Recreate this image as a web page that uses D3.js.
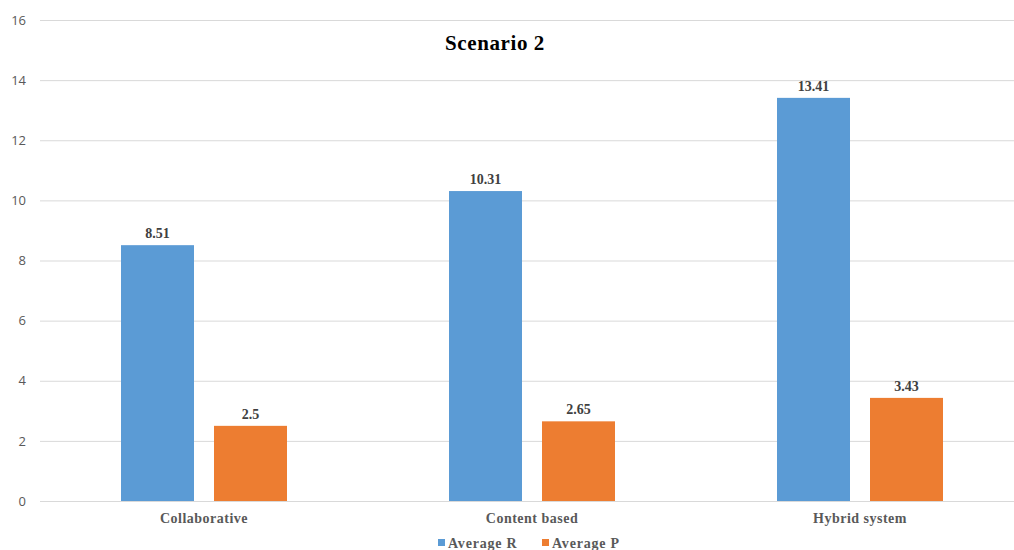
<!DOCTYPE html>
<html>
<head>
<meta charset="utf-8">
<script src="https://cdn.jsdelivr.net/npm/d3@7"></script>
<style>
  body { margin: 0; background: #fff; }
  svg { display: block; }
</style>
</head>
<body>
<div class="chart"></div>
<script>
// data
let categories = ["Collaborative", "Content based", "Hybrid system"];
let seriesNames = ["Average R", "Average P"];
let averageR = [8.51, 10.31, 13.41];
let averageP = [2.5, 2.65, 3.43];
let yTicks = [0, 2, 4, 6, 8, 10, 12, 14, 16];

let colors = ["#5B9BD5", "#ED7D31"];

let svgWidth = 1014;
let svgHeight = 550;

let svg = d3.select(".chart")
  .append("svg")
  .attr("width", svgWidth)
  .attr("height", svgHeight);

let rows = categories.map((c, i) => ({ cat: c, values: [averageR[i], averageP[i]] }));

// plot runs off the right edge in the original
let xScale = d3.scaleBand()
  .domain(categories)
  .range([40, 1024]);

let xInner = d3.scaleBand()
  .domain(seriesNames)
  .range([81, 328 - 81])
  .paddingInner(20 / 93);

let yScale = d3.scaleLinear()
  .domain([0, 16])
  .range([501, 20]);

// gridlines
svg.append("g")
  .selectAll("line")
  .data(yTicks)
  .enter()
  .append("line")
  .attr("x1", 40)
  .attr("x2", svgWidth)
  .attr("y1", d => yScale(d) + 0.5)
  .attr("y2", d => yScale(d) + 0.5)
  .attr("stroke", "#d9d9d9")
  .attr("stroke-width", 1);

// y tick labels
let leftAxis = d3.axisLeft(yScale).tickValues(yTicks).tickSize(0).tickPadding(0);
let yAxisG = svg.append("g")
  .attr("transform", "translate(26,0)")
  .call(leftAxis);
yAxisG.select(".domain").remove();
yAxisG.selectAll("text")
  .attr("font-family", "'Open Sans', sans-serif")
  .attr("font-size", "13px")
  .attr("fill", "#595959");

// category labels
svg.append("g")
  .selectAll("text")
  .data(categories)
  .enter()
  .append("text")
  .attr("x", d => xScale(d) + xScale.bandwidth() / 2)
  .attr("y", 523)
  .attr("text-anchor", "middle")
  .attr("font-family", "'Liberation Serif', 'Times New Roman', serif")
  .attr("font-weight", "bold")
  .attr("font-size", "14px")
  .attr("letter-spacing", "0.5px")
  .attr("fill", "#595959")
  .text(d => d);

// bars
let groups = svg.append("g")
  .selectAll("g")
  .data(rows)
  .enter()
  .append("g")
  .attr("transform", d => `translate(${xScale(d.cat)},0)`);

groups.selectAll("rect")
  .data(d => d.values.map((v, i) => ({ name: seriesNames[i], value: v, idx: i })))
  .enter()
  .append("rect")
  .attr("x", d => xInner(d.name))
  .attr("width", xInner.bandwidth())
  .attr("y", d => yScale(d.value))
  .attr("height", d => yScale(0) - yScale(d.value))
  .attr("fill", d => colors[d.idx]);

groups.selectAll("text")
  .data(d => d.values.map((v, i) => ({ name: seriesNames[i], value: v })))
  .enter()
  .append("text")
  .attr("x", d => xInner(d.name) + xInner.bandwidth() / 2)
  .attr("y", d => yScale(d.value) - 7)
  .attr("text-anchor", "middle")
  .attr("font-family", "'Liberation Serif', 'Times New Roman', serif")
  .attr("font-weight", "bold")
  .attr("font-size", "14px")
  .attr("fill", "#404040")
  .text(d => d.value);

// title
svg.append("text")
  .attr("x", 495)
  .attr("y", 50)
  .attr("text-anchor", "middle")
  .attr("font-family", "'Liberation Serif', 'Times New Roman', serif")
  .attr("font-weight", "bold")
  .attr("font-size", "21px")
  .attr("letter-spacing", "0.6px")
  .attr("fill", "#000")
  .text("Scenario 2");

// legend
let legendX = [438, 542];
let legend = svg.append("g")
  .selectAll("g")
  .data(seriesNames)
  .enter()
  .append("g")
  .attr("transform", (d, i) => `translate(${legendX[i]},543)`);

legend.append("rect")
  .attr("x", 0)
  .attr("y", -4)
  .attr("width", 7)
  .attr("height", 7)
  .attr("fill", (d, i) => colors[i]);

legend.append("text")
  .attr("x", 10)
  .attr("y", 4.5)
  .attr("font-family", "'Liberation Serif', 'Times New Roman', serif")
  .attr("font-weight", "bold")
  .attr("font-size", "14px")
  .attr("letter-spacing", "0.8px")
  .attr("fill", "#595959")
  .text(d => d);
</script>
</body>
</html>
